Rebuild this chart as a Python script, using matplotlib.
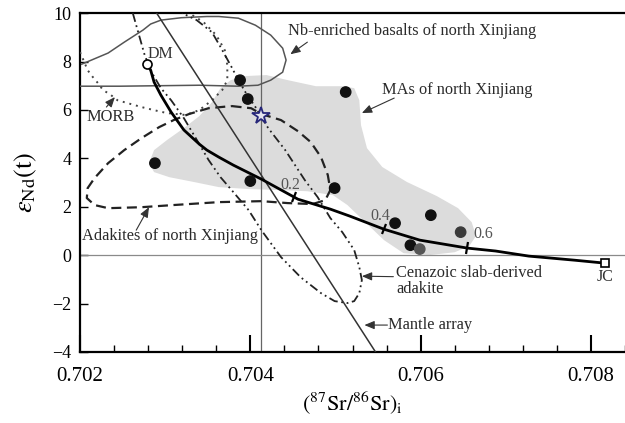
import matplotlib.pyplot as plt
from matplotlib.markers import MarkerStyle
from matplotlib.transforms import Affine2D

plt.rcParams['font.family'] = ['Liberation Serif', 'DejaVu Serif']
plt.rcParams['mathtext.fontset'] = 'stix'

# Samples: (87Sr/86Sr)i and eNd(t)
sample_sr = [0.70388, 0.70397, 0.70288, 0.70400, 0.70512, 0.70499,
             0.70570, 0.70612, 0.70647, 0.70588, 0.70599]
sample_nd = [7.23, 6.45, 3.80, 3.06, 6.74, 2.77,
             1.32, 1.65, 0.95, 0.41, 0.25]
sample_colors = ['#111111'] * 8 + ['#3a3a3a', '#111111', '#555555']

star_sr, star_nd = 0.70413, 5.74
dm_sr, dm_nd = 0.70279, 7.89
jc_sr, jc_nd = 0.70816, -0.33

# DM - JC mixing curve
mix_sr = [0.70279, 0.70283, 0.70287, 0.70295, 0.70307, 0.70322, 0.70340,
          0.70349, 0.70363, 0.70380, 0.70413, 0.70456, 0.70494, 0.70517,
          0.70557, 0.70599, 0.70655, 0.70688, 0.70727, 0.70781, 0.70816]
mix_nd = [7.89, 7.64, 7.15, 6.61, 5.91, 5.17, 4.59,
          4.34, 4.05, 3.72, 3.14, 2.31, 1.90, 1.61,
          1.07, 0.62, 0.29, 0.17, -0.04, -0.21, -0.33]
mix_tick_labels = ['0.2', '0.4', '0.6']
mix_tick_sr = [0.70451, 0.70557, 0.70655]
mix_tick_nd = [2.40, 1.07, 0.29]
mix_label_sr = [0.70447, 0.70553, 0.70673]
mix_label_nd = [2.89, 1.61, 0.87]

# MAs of north Xinjiang (grey field)
mas_sr = [0.70281, 0.70287, 0.70302, 0.70322, 0.70340, 0.70355, 0.70365,
          0.70377, 0.70395, 0.70419, 0.70444, 0.70477, 0.70508, 0.70522,
          0.70528, 0.70530, 0.70537, 0.70555, 0.70584, 0.70619, 0.70644,
          0.70660, 0.70665, 0.70657, 0.70640, 0.70610, 0.70580, 0.70557,
          0.70535, 0.70514, 0.70497, 0.70467, 0.70433, 0.70398, 0.70363,
          0.70334, 0.70305, 0.70287]
mas_nd = [3.80, 4.34, 4.75, 5.25, 5.74, 6.32, 6.90,
          7.23, 7.40, 7.44, 7.23, 6.98, 6.98, 6.90,
          6.40, 5.37, 4.42, 3.64, 3.02, 2.44, 1.94,
          1.36, 0.79, 0.37, 0.12, 0.00, 0.08, 0.62,
          1.36, 2.07, 2.48, 2.64, 2.69, 2.73, 2.81,
          3.02, 3.22, 3.43]

# Nb-enriched basalts of north Xinjiang
nb_sr = [0.70200, 0.70247, 0.70293, 0.70340, 0.70386, 0.70409, 0.70424,
         0.70438, 0.70442, 0.70438, 0.70424, 0.70406, 0.70386, 0.70363,
         0.70349, 0.70319, 0.70295, 0.70283, 0.70274, 0.70252, 0.70233,
         0.70202]
nb_nd = [6.98, 6.98, 7.00, 7.02, 6.98, 7.02, 7.23,
         7.56, 8.06, 8.55, 9.09, 9.50, 9.79, 9.86,
         9.86, 9.81, 9.71, 9.55, 9.30, 8.80, 8.35,
         7.89]

# MORB
morb_sr = [0.70200, 0.70205, 0.70209, 0.70215, 0.70221, 0.70227, 0.70235,
           0.70244, 0.70256, 0.70272, 0.70287, 0.70302, 0.70324, 0.70340,
           0.70355, 0.70367, 0.70373, 0.70373, 0.70370, 0.70360, 0.70345,
           0.70328]
morb_nd = [8.39, 7.98, 7.64, 7.36, 7.11, 6.82, 6.65,
           6.40, 6.28, 6.12, 5.99, 5.87, 5.79, 5.99,
           6.40, 6.82, 7.23, 7.85, 8.47, 9.09, 9.63,
           10.0]

# Adakites of north Xinjiang
adk_sr = [0.70378, 0.70401, 0.70413, 0.70436, 0.70456, 0.70471, 0.70483,
          0.70491, 0.70494, 0.70488, 0.70473, 0.70444, 0.70413, 0.70363,
          0.70310, 0.70272, 0.70233, 0.70217, 0.70208, 0.70209, 0.70217,
          0.70233, 0.70252, 0.70272, 0.70293, 0.70310, 0.70328, 0.70351,
          0.70378]
adk_nd = [6.16, 6.07, 5.83, 5.58, 5.12, 4.67, 4.05,
          3.31, 2.69, 2.27, 2.11, 2.15, 2.23, 2.19,
          2.07, 1.98, 1.94, 2.07, 2.36, 2.77, 3.18,
          3.80, 4.34, 4.83, 5.29, 5.58, 5.83, 6.07,
          6.16]

# Cenozoic slab-derived adakite
cen_sr = [0.70262, 0.70266, 0.70271, 0.70276, 0.70284, 0.70295, 0.70307,
          0.70322, 0.70336, 0.70351, 0.70365, 0.70378, 0.70398, 0.70413,
          0.70436, 0.70459, 0.70483, 0.70499, 0.70514, 0.70522, 0.70528,
          0.70531, 0.70528, 0.70522, 0.70508, 0.70494, 0.70479, 0.70464,
          0.70441, 0.70421, 0.70413, 0.70406, 0.70395, 0.70386, 0.70378,
          0.70365, 0.70355, 0.70337, 0.70320]
cen_nd = [10.0, 9.50, 8.88, 8.26, 7.56, 6.90, 6.40,
          5.66, 4.83, 3.93, 3.22, 2.69, 1.86, 1.03,
          -0.08, -0.91, -1.57, -1.90, -1.98, -1.90, -1.57,
          -1.03, -0.50, 0.21, 0.95, 1.53, 2.40, 3.10,
          4.34, 5.25, 5.70, 6.12, 6.69, 7.23, 7.77,
          8.60, 9.21, 9.71, 10.0]

# Mantle array
mantle_sr = [0.70290, 0.70547]
mantle_nd = [10.0, -4.0]

fig = plt.figure(figsize=(6.25, 4.23), dpi=100)
ax = fig.add_axes([0.128, 0.168, 0.872, 0.801])

ax.fill(mas_sr, mas_nd, color='#dcdcdc', lw=0, zorder=1)

ax.axvline(0.70413, color='#666666', lw=0.9, zorder=2)
ax.axhline(0, color='#8a8a8a', lw=0.9, zorder=2)

ax.plot(nb_sr, nb_nd, color='#555555', lw=1.1, zorder=3)
ax.plot(morb_sr, morb_nd, color='#444444', lw=1.4, ls=(0, (1, 2.5)), zorder=3)
ax.plot(adk_sr, adk_nd, color='#222222', lw=1.6, ls=(0, (4.5, 2.5)), zorder=3)
ax.plot(cen_sr, cen_nd, color='#222222', lw=1.3,
        ls=(0, (5, 2, 1, 2, 1, 2)), zorder=3)
ax.plot(mantle_sr, mantle_nd, color='#333333', lw=1.1, zorder=3)

ax.plot(mix_sr, mix_nd, color='black', lw=2.0, zorder=4)
for sr, nd, ang in zip(mix_tick_sr, mix_tick_nd, [-24, -19, -8]):
    tick = MarkerStyle('|', transform=Affine2D().rotate_deg(ang))
    ax.plot(sr, nd, marker=tick, ms=8, mew=1.6, color='black', zorder=5)
for lab, sr, nd in zip(mix_tick_labels, mix_label_sr, mix_label_nd):
    ax.text(sr, nd, lab, fontsize=11.5, color='#555555', ha='center',
            va='center', zorder=6)

ax.scatter(sample_sr, sample_nd, s=55, c=sample_colors, zorder=6)
ax.plot(star_sr, star_nd, marker='*', ms=13, mfc='#e4e4ee', mec='#27277a',
        mew=1.3, zorder=7)
ax.plot(dm_sr, dm_nd, marker='o', ms=6.5, mfc='white', mec='black',
        mew=1.2, zorder=7)
ax.plot(jc_sr, jc_nd, marker='s', ms=5.5, mfc='white', mec='black',
        mew=1.2, zorder=7)
ax.text(0.70295, 8.31, 'DM', fontsize=11.5, color='#333333', ha='center',
        va='center', zorder=7)
ax.text(jc_sr, -0.91, 'JC', fontsize=11.5, color='#333333', ha='center',
        va='center', zorder=7)

arrow = dict(arrowstyle='-|>,head_length=0.6,head_width=0.25',
             color='#333333', lw=0.8, shrinkA=0, shrinkB=0)
txt = dict(fontsize=11.8, color='#2a2a2a', va='center', zorder=8)

ax.text(0.70444, 9.26, 'Nb-enriched basalts of north Xinjiang', **txt)
ax.annotate('', xy=(0.70447, 8.30), xytext=(0.70467, 8.80), arrowprops=arrow)

ax.text(0.70555, 6.82, 'MAs of north Xinjiang', **txt)
ax.annotate('', xy=(0.70531, 5.87), xytext=(0.70569, 6.49), arrowprops=arrow)

ax.text(0.70236, 5.70, 'MORB', ha='center', **txt)
ax.annotate('', xy=(0.70241, 6.53), xytext=(0.70231, 6.12), arrowprops=arrow)

ax.text(0.70202, 0.79, 'Adakites of north Xinjiang', **txt)
ax.annotate('', xy=(0.70281, 1.98), xytext=(0.70266, 1.03), arrowprops=arrow)

ax.text(0.70571, -1.07, 'Cenazoic slab-derived\nadakite', linespacing=1.0,
        **txt)
ax.annotate('', xy=(0.70531, -0.87), xytext=(0.70568, -0.89), arrowprops=arrow)

ax.text(0.70562, -2.89, 'Mantle array', **txt)
ax.annotate('', xy=(0.70534, -2.89), xytext=(0.70561, -2.89), arrowprops=arrow)

ax.set_xlim(0.702, 0.708337)
ax.set_ylim(-4, 10)
ax.set_xticks([0.702, 0.704, 0.706, 0.708], ['0.702', '0.704', '0.706', '0.708'])
ax.set_xticks([0.7024, 0.7028, 0.7032, 0.7036, 0.7044, 0.7048, 0.7052,
               0.7056, 0.7064, 0.7068, 0.7072, 0.7076, 0.7084], minor=True)
ax.set_yticks(range(-4, 11, 2))
ax.tick_params(axis='x', which='major', direction='in', length=12, width=1.5,
               labelsize=15, pad=11)
ax.tick_params(axis='x', which='minor', direction='in', length=5, width=1.0)
ax.tick_params(axis='y', direction='in', length=6, width=1.0, labelsize=13,
               pad=6)

for side in ['left', 'bottom', 'top']:
    ax.spines[side].set_linewidth(1.6)
ax.spines['right'].set_visible(False)

ax.set_xlabel(r'$(^{87}\mathrm{Sr}/^{86}\mathrm{Sr})_{\mathrm{i}}$',
              fontsize=16, labelpad=2)
ax.set_ylabel(r'$\varepsilon_{\mathrm{Nd}}\mathrm{(t)}$', fontsize=19)
ax.yaxis.set_label_coords(-0.075, 0.5)

fig.savefig('out.png', dpi=100)
